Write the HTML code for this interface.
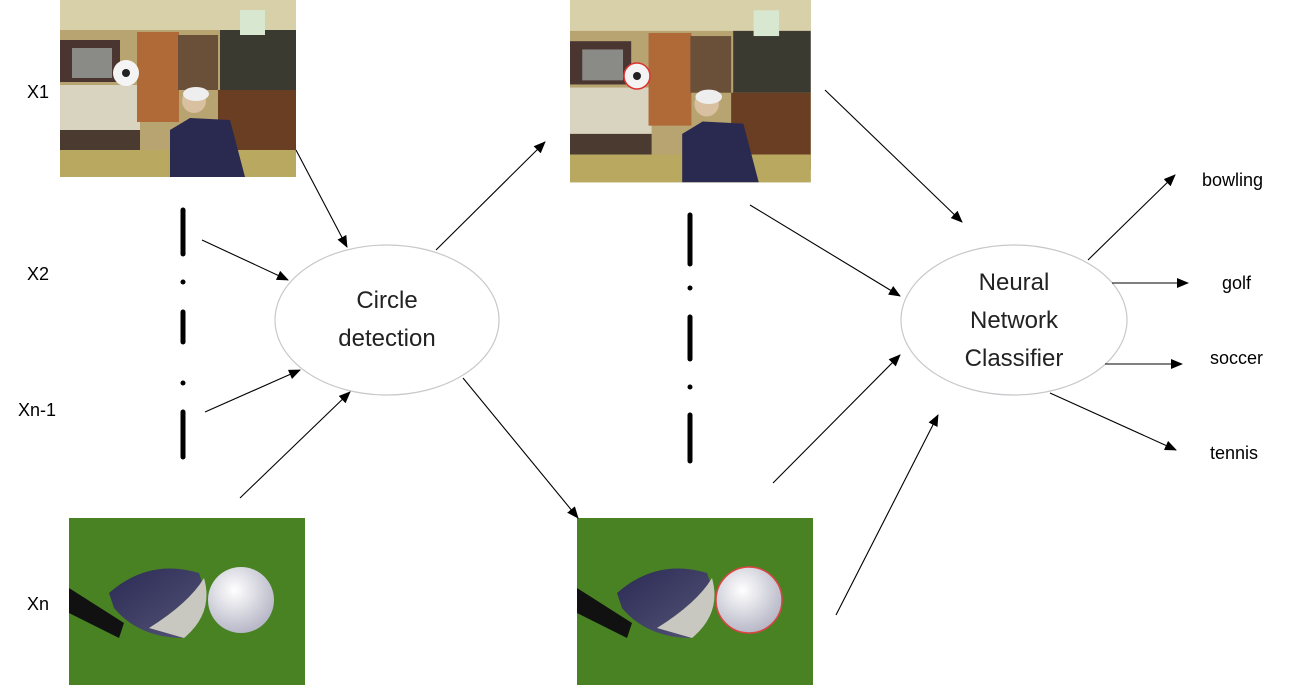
<!DOCTYPE html>
<html><head><meta charset="utf-8"><style>
html,body{margin:0;padding:0;background:#fff;}
svg{display:block;font-family:"Liberation Sans",sans-serif;}
</style></head><body>
<svg width="1296" height="685" viewBox="0 0 1296 685" xmlns="http://www.w3.org/2000/svg">
<defs>
<marker id="a" markerWidth="12" markerHeight="10" refX="11" refY="5" orient="auto" markerUnits="userSpaceOnUse"><path d="M0,0 L12,5 L0,10 z" fill="#000"/></marker>
<radialGradient id="ball" cx="40%" cy="35%" r="65%"><stop offset="0" stop-color="#fff"/><stop offset="1" stop-color="#b8b8c8"/></radialGradient>
<linearGradient id="club" x1="0" y1="0" x2="1" y2="1"><stop offset="0" stop-color="#2a2a55"/><stop offset="1" stop-color="#555577"/></linearGradient>
<g id="room">
<rect width="236" height="177" fill="#b8a470"/>
<rect width="236" height="30" fill="#d8d0a8"/>
<rect x="0" y="40" width="60" height="42" fill="#4a3530"/>
<rect x="12" y="48" width="40" height="30" fill="#8a8a86"/>
<rect x="0" y="85" width="80" height="45" fill="#d8d4c0"/>
<rect x="77" y="32" width="42" height="90" fill="#b06a38"/>
<rect x="118" y="35" width="40" height="55" fill="#6a5038"/>
<rect x="160" y="30" width="76" height="60" fill="#3a3a30"/>
<rect x="158" y="90" width="78" height="75" fill="#6a3e22"/>
<rect x="0" y="130" width="80" height="20" fill="#4a3a30"/>
<rect x="0" y="150" width="236" height="27" fill="#b8a860"/>
<path d="M110,130 L130,118 L170,120 L185,177 L110,177 Z" fill="#2a2a50"/>
<circle cx="134" cy="101" r="12" fill="#d8c0a0"/>
<ellipse cx="136" cy="94" rx="13" ry="7" fill="#eee"/>
<rect x="180" y="10" width="25" height="25" fill="#d8e8d0"/>
</g>
<g id="golf">
<rect width="236" height="167" fill="#4f8a28"/>
<rect width="236" height="167" fill="#3a7018" opacity="0.3"/>
<path d="M0,70 L55,105 L50,120 L0,95 Z" fill="#111"/>
<path d="M40,75 Q80,40 130,55 Q145,95 115,120 Q70,120 45,90 Z" fill="url(#club)"/>
<path d="M80,110 Q120,85 135,60 Q145,95 115,120 Z" fill="#c8c8c0"/>
</g>
</defs>

<use href="#room" x="60" y="0"/>
<circle cx="126" cy="73" r="13" fill="#f4f4f4"/><circle cx="126" cy="73" r="4" fill="#222"/>
<g transform="translate(570,0) scale(1.02,1.03)"><use href="#room"/></g>
<circle cx="637" cy="76" r="13" fill="#f4f4f4" stroke="#d33" stroke-width="1.5"/><circle cx="637" cy="76" r="4" fill="#222"/>
<use href="#golf" x="69" y="518"/>
<circle cx="241" cy="600" r="33" fill="url(#ball)"/>
<use href="#golf" x="577" y="518"/>
<circle cx="749" cy="600" r="33" fill="url(#ball)" stroke="#d44" stroke-width="1.5"/>

<g fill="#000" font-size="18">
<text x="27" y="98">X1</text>
<text x="27" y="280">X2</text>
<text x="18" y="416">Xn-1</text>
<text x="27" y="610">Xn</text>
<text x="1202" y="186">bowling</text>
<text x="1222" y="289">golf</text>
<text x="1210" y="364">soccer</text>
<text x="1210" y="459">tennis</text>
</g>

<g stroke="#000" stroke-width="5" stroke-linecap="round">
<line x1="183" y1="210" x2="183" y2="254"/><line x1="183" y1="312" x2="183" y2="342"/><line x1="183" y1="412" x2="183" y2="457"/>
<line x1="690" y1="215" x2="690" y2="264"/><line x1="690" y1="317" x2="690" y2="359"/><line x1="690" y1="415" x2="690" y2="461"/>
</g>
<g fill="#000"><circle cx="183" cy="282" r="2.5"/><circle cx="183" cy="383" r="2.5"/><circle cx="690" cy="288" r="2.5"/><circle cx="690" cy="387" r="2.5"/></g>

<ellipse cx="387" cy="320" rx="112" ry="75" fill="#fff" stroke="#c8c8cc" stroke-width="1.2"/>
<ellipse cx="1014" cy="320" rx="113" ry="75" fill="#fff" stroke="#c8c8cc" stroke-width="1.2"/>
<g font-size="24" fill="#222" text-anchor="middle">
<text x="387" y="308">Circle</text><text x="387" y="346">detection</text>
<text x="1014" y="290">Neural</text><text x="1014" y="328">Network</text><text x="1014" y="366">Classifier</text>
</g>

<g stroke="#000" stroke-width="1.1" marker-end="url(#a)">
<line x1="296" y1="150" x2="347" y2="247"/>
<line x1="202" y1="240" x2="288" y2="280"/>
<line x1="205" y1="412" x2="300" y2="370"/>
<line x1="240" y1="498" x2="350" y2="392"/>
<line x1="436" y1="250" x2="545" y2="142"/>
<line x1="463" y1="378" x2="578" y2="518"/>
<line x1="825" y1="90" x2="962" y2="222"/>
<line x1="750" y1="205" x2="900" y2="296"/>
<line x1="773" y1="483" x2="900" y2="355"/>
<line x1="836" y1="615" x2="938" y2="415"/>
<line x1="1088" y1="260" x2="1175" y2="175"/>
<line x1="1112" y1="283" x2="1188" y2="283"/>
<line x1="1105" y1="364" x2="1182" y2="364"/>
<line x1="1050" y1="393" x2="1176" y2="450"/>
</g>
</svg>
</body></html>
